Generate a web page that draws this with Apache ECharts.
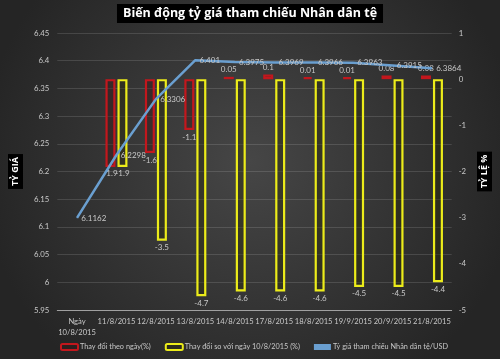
<!DOCTYPE html>
<html>
<head>
<meta charset="utf-8">
<script src="https://cdn.jsdelivr.net/npm/echarts@6/dist/echarts.min.js"></script>
<style>
html,body{margin:0;padding:0;background:#2e2e2e;}
#chart{width:500px;height:359px;}
</style>
</head>
<body>
<div id="chart"></div>
<script>
const categories = ['Ngày\n10/8/2015','11/8/2015','12/8/2015','13/8/2015','14/8/2015','17/8/2015','18/8/2015','19/9/2015','20/9/2015','21/8/2015'];
const dailyChange = [null,-1.9,-1.6,-1.1,0.05,0.1,0.01,0.01,0.08,0.08];
const changeSince108 = [null,-1.9,-3.5,-4.7,-4.6,-4.6,-4.6,-4.5,-4.5,-4.4];
const rate = [6.1162,6.2298,6.3306,6.401,6.3975,6.3969,6.3966,6.3963,6.3915,6.3864];
const leftTicks = {min:5.95,max:6.45,interval:0.05};
const rightTicks = {min:-5,max:1,interval:1};

const labelColor = '#c8c8c8';
const font = 'Lato, sans-serif';
const titleFont = '"Open Sans", "DejaVu Sans", sans-serif';

function barData(arr){
  return arr.map(v => v === null ? null : ({
    value: v,
    label: {position: v < 0 ? 'bottom' : 'top'}
  }));
}

const chart = echarts.init(document.getElementById('chart'), null, {renderer:'canvas'});
chart.setOption({
  backgroundColor: {
    type:'radial', x:0.5, y:0.45, r:0.75,
    colorStops:[{offset:0,color:'#464646'},{offset:1,color:'#252525'}]
  },
  animation:false,
  title:{
    text:'Biến động tỷ giá tham chiếu Nhân dân tệ',
    left:'center', top:4,
    backgroundColor:'#000',
    padding:[3,6,3,6],
    textStyle:{color:'#fff',fontSize:12.5,fontWeight:'bold',fontFamily:titleFont}
  },
  legend:{
    left:55, top:338,
    itemWidth:17, itemHeight:6, itemGap:14,
    textStyle:{color:labelColor,fontSize:7.3,fontFamily:font,padding:[0,0,0,-3]},
    data:[
      {name:'Thay đổi theo ngày(%)'},
      {name:'Thay đổi so với ngày 10/8/2015 (%)'},
      {name:'Tỷ giá tham chiếu Nhân dân tệ/USD', icon:'rect', itemStyle:{color:'#6a9fd0'}}
    ]
  },
  grid:{left:48,right:40,top:33,bottom:49},
  xAxis:{
    type:'category',
    data:categories,
    axisLine:{onZero:false,lineStyle:{color:'#a0a0a0',width:1}},
    axisTick:{show:false},
    axisLabel:{color:labelColor,fontSize:7.6,fontFamily:font,margin:6,interval:0,lineHeight:11}
  },
  yAxis:[
    {
      type:'value', min:leftTicks.min, max:leftTicks.max, interval:leftTicks.interval,
      name:'TỶ GIÁ', nameLocation:'middle', nameGap:27,
      nameTextStyle:{color:'#fff',fontWeight:'bold',fontSize:9,fontFamily:titleFont,backgroundColor:'#000',padding:[3,3,3,3]},
      axisLine:{show:false}, axisTick:{show:false},
      axisLabel:{color:labelColor,fontSize:7.8,fontFamily:font,margin:8},
      splitLine:{lineStyle:{color:'rgba(255,255,255,0.13)',width:1}}
    },
    {
      type:'value', min:rightTicks.min, max:rightTicks.max, interval:rightTicks.interval,
      name:'TỶ LỆ %', nameLocation:'middle', nameGap:24, nameRotate:90,
      nameTextStyle:{color:'#fff',fontWeight:'bold',fontSize:9,fontFamily:titleFont,backgroundColor:'#000',padding:[3,3,3,3]},
      axisLine:{show:false}, axisTick:{show:false},
      axisLabel:{color:labelColor,fontSize:7.8,fontFamily:font,margin:7},
      splitLine:{show:false}
    }
  ],
  series:[
    {
      name:'Thay đổi theo ngày(%)',
      type:'bar', yAxisIndex:1,
      data:barData(dailyChange),
      barWidth:10, barGap:'20%', barMinHeight:2,
      itemStyle:{color:'rgba(60,20,20,0.35)',borderColor:'#c3171d',borderWidth:2.2},
      label:{show:true,color:labelColor,fontSize:8,fontFamily:font,distance:3}
    },
    {
      name:'Thay đổi so với ngày 10/8/2015 (%)',
      type:'bar', yAxisIndex:1,
      data:barData(changeSince108),
      barWidth:10, barGap:'20%',
      itemStyle:{color:'rgba(40,40,0,0.35)',borderColor:'#ecec1a',borderWidth:2.2},
      label:{show:true,color:labelColor,fontSize:8,fontFamily:font,distance:3}
    },
    {
      name:'Tỷ giá tham chiếu Nhân dân tệ/USD',
      type:'line', yAxisIndex:0,
      data:rate,
      symbol:'circle', symbolSize:0.5,
      lineStyle:{color:'#6a9fd0',width:2.5},
      itemStyle:{color:'#6a9fd0'},
      label:{show:true,position:'right',distance:4,color:labelColor,fontSize:8,fontFamily:font}
    }
  ]
});
</script>
</body>
</html>
